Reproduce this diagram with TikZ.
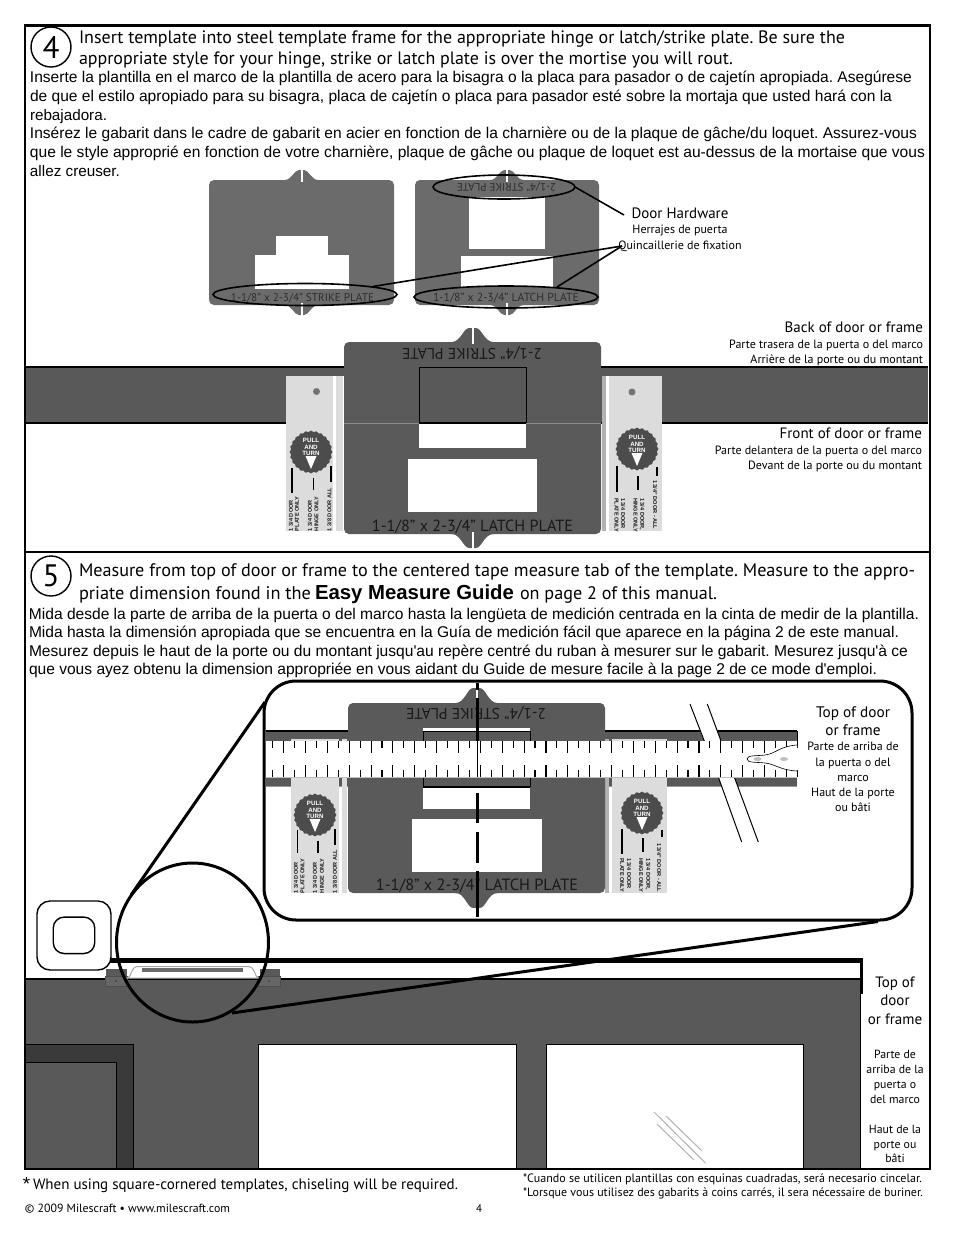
\documentclass[tikz,border=0pt]{standalone}
\usepackage{fontspec}
\usepackage{graphicx}
\usetikzlibrary{shapes.geometric}
\setmainfont{PT Sans}
\newfontfamily\arialf{Liberation Sans}
\definecolor{tgA}{HTML}{6B6B6B}
\definecolor{tgB}{HTML}{5A5A5A}
\definecolor{doorc}{HTML}{595959}
\definecolor{stripc}{HTML}{DCDCDC}
\definecolor{darkf}{HTML}{3A3A3A}
\tikzset{
  txt/.style={inner sep=0pt,outer sep=0pt,anchor=base west,align=left},
  ctxt/.style={inner sep=0pt,outer sep=0pt,anchor=base},
  rtxt/.style={inner sep=0pt,outer sep=0pt,anchor=base east},
  tiny90/.style={inner sep=0pt,outer sep=0pt,anchor=west,rotate=90,font=\arialf\bfseries\fontsize{5.6}{6}\selectfont,text=black!90},
  tinym90/.style={inner sep=0pt,outer sep=0pt,anchor=west,rotate=-90,font=\arialf\bfseries\fontsize{5.6}{6}\selectfont,text=black!90},
  pullt/.style={inner sep=0pt,outer sep=0pt,anchor=base,text=white,font=\arialf\bfseries\fontsize{6.2}{7}\selectfont},
  framebox/.style={draw=black,line width=2.5pt},
  bandline/.style={draw=black,line width=1.6pt},
  callout/.style={draw=black,line width=1.6pt},
  zoomline/.style={draw=black,line width=3pt},
  stepc/.style={draw=black,line width=1.4pt,circle,minimum size=40pt,inner sep=0pt,font=\fontsize{31}{31}\selectfont},
  tick/.style={draw=black,line width=1.1pt},
  glass/.style={draw=black!30,line width=1pt},
}
% line of text fitted to a width
\newcommand{\lin}[6]{\node[txt] (#1) at (#2,#3) {\resizebox{#4pt}{!}{\frenchspacing #5\strut\ignorespaces #6}};}
\newcommand{\arialsz}{\arialf\fontsize{14.5}{16}\selectfont}
\newcommand{\mainsz}{\fontsize{17.5}{20}\selectfont}
\newcommand{\bigsz}{\fontsize{15}{17}\selectfont}
\newcommand{\smlsz}{\fontsize{12}{14}\selectfont}
% rounded template plate: x0 x1 y0 y1 tab half width, tab height, colour
\newcommand{\plate}[7]{%
  \pgfmathsetmacro\pcx{(#1+#2)/2}%
  \fill[#7,rounded corners=5pt] (#1,#3) rectangle (#2,#4);
  \fill[#7] ({\pcx-#5},#3) .. controls ({\pcx-#5*0.55},#3) and ({\pcx-#5*0.45},{#3-#6}) .. ({\pcx-#5*0.15},{#3-#6}) -- ({\pcx+#5*0.15},{#3-#6}) .. controls ({\pcx+#5*0.45},{#3-#6}) and ({\pcx+#5*0.55},#3) .. ({\pcx+#5},#3) -- cycle;
  \fill[#7] ({\pcx-#5},#4) .. controls ({\pcx-#5*0.55},#4) and ({\pcx-#5*0.45},{#4+#6}) .. ({\pcx-#5*0.15},{#4+#6}) -- ({\pcx+#5*0.15},{#4+#6}) .. controls ({\pcx+#5*0.45},{#4+#6}) and ({\pcx+#5*0.55},#4) .. ({\pcx+#5},#4) -- cycle;
  \fill[white] ({\pcx-1},{#3-#6-1}) rectangle ({\pcx+1},{#3+2});
  \fill[white] ({\pcx-1},{#4-2}) rectangle ({\pcx+1},{#4+#6+1});
}
% scalloped dial
\newcommand{\dial}[3]{%
  \fill[tgB!85!black] plot[domain=0:360,samples=145,smooth] ({#2+(20.7+0.6*cos(24*\x))*cos(\x)},{#3+(20.7+0.6*cos(24*\x))*sin(\x)}) -- cycle;
  \fill[white] ({#2-5.5},{#3+4}) -- ({#2+5.5},{#3+4}) -- (#2,{#3+17}) -- cycle;
  \node[pullt] (#1a) at (#2,{#3-9.5}) {PULL};
  \node[pullt] (#1b) at (#2,{#3-3}) {AND};
  \node[pullt] (#1c) at (#2,{#3+3.5}) {TURN};
}
\begin{document}
\begin{tikzpicture}[x=1pt,y=-1pt]
\useasboundingbox (0,0) rectangle (954,1235);
\fill[white] (0,0) rectangle (954,1235);

%%%%%%%%%%%%%%%% SECTION 4
\node[stepc] (s4) at (51,47) {4};
\lin{a1}{79}{43}{766}{\mainsz}{Insert template into steel template frame for the appropriate hinge or latch/strike plate. Be sure the}
\lin{a2}{79}{64}{654}{\mainsz}{appropriate style for your hinge, strike or latch plate is over the mortise you will rout.}
\lin{b1}{30}{82}{882}{\arialsz}{Inserte la plantilla en el marco de la plantilla de acero para la bisagra o la placa para pasador o de cajetín apropiada. Asegúrese}
\lin{b2}{30}{101}{862}{\arialsz}{de que el estilo apropiado para su bisagra, placa de cajetín o placa para pasador esté sobre la mortaja que usted hará con la}
\lin{b3}{30}{120}{77}{\arialsz}{rebajadora.}
\lin{b4}{30}{138}{887}{\arialsz}{Insérez le gabarit dans le cadre de gabarit en acier en fonction de la charnière ou de la plaque de gâche/du loquet. Assurez-vous}
\lin{b5}{30}{157}{895}{\arialsz}{que le style approprié en fonction de votre charnière, plaque de gâche ou plaque de loquet est au-dessus de la mortaise que vous}
\lin{b6}{30}{176}{90}{\arialsz}{allez creuser.}

% small templates
\plate{209}{394}{180}{305}{17}{10}{tgA}
\fill[white] (276,236) rectangle (328,256);
\fill[white] (255,255) rectangle (349,289);
\plate{415}{599}{180}{305}{17}{10}{tgA}
\fill[white] (469,197) rectangle (545,249);
\fill[white] (461,256) rectangle (553,287);
\node[ctxt,text=black!82] (tl1) at (302.5,301) {\resizebox{143pt}{!}{\fontsize{10}{12}\selectfont 1-1/8" x 2-3/4" STRIKE PLATE}};
\node[ctxt,text=black!82] (tl2) at (506,301.5) {\resizebox{146pt}{!}{\fontsize{10}{12}\selectfont 1-1/8" x 2-3/4" LATCH PLATE}};
\node[ctxt,rotate=180,text=black!82] (tl3) at (506.5,183) {\resizebox{99pt}{!}{\fontsize{10}{12}\selectfont 2-1/4" STRIKE PLATE}};
\node[draw=black,line width=1.6pt,ellipse,minimum width=184pt,minimum height=22pt,inner sep=0pt] (e1) at (305,294.5) {};
\node[draw=black,line width=1.6pt,ellipse,minimum width=184pt,minimum height=22pt,inner sep=0pt] (e2) at (506,297) {};
\node[draw=black,line width=1.6pt,ellipse,minimum width=142pt,minimum height=24pt,inner sep=0pt] (e3) at (504,187) {};
\coordinate (hw1) at (624,215);
\coordinate (hw2) at (622,246);
\coordinate (e1p) at (373,286.5);
\coordinate (e2p) at (557,287);
\coordinate (e3p) at (575,187);
\draw[callout] (e3p) -- (hw1);
\draw[callout] (e1p) -- (hw2);
\draw[callout] (e2p) -- (hw2);
\node[ctxt,font=\bigsz] (dh) at (680,218) {Door Hardware};
\node[ctxt,font=\smlsz] (dh2) at (680,233.5) {Herrajes de puerta};
\node[ctxt,font=\smlsz] (dh3) at (680,249) {Quincaillerie de fixation};

% door band
\fill[doorc] (25,367) rectangle (928,423);
\draw[bandline] (25,367) -- (928,367);
\draw[bandline] (25,423) -- (928,423);
% strips
\fill[stripc] (286,376) rectangle (333,531);
\fill[white] (333,376) rectangle (344,531);
\fill[stripc] (336,376) rectangle (343,531);
\fill[stripc] (614,376) rectangle (662,531);
\fill[white] (602,376) rectangle (614,531);
\fill[black!30] (602,376) rectangle (606,531);
\fill[stripc] (609,376) rectangle (614,531);
\fill[black!55] (316.5,391.5) circle (3.5);
\fill[black!55] (632,392) circle (3.5);
\dial{da}{311}{452}
\dial{db}{637}{449}
\draw[line width=1.7pt] (292,468) -- (292,493);
\draw[line width=1.7pt] (313.5,478) -- (313.5,490);
\draw[line width=1.7pt] (331,466) -- (331,482);
\draw[line width=1.3pt] (617,466) -- (617,492);
\draw[line width=1.7pt] (638,476) -- (638,490);
\draw[line width=1.7pt] (657,467) -- (657,476);
\node[tiny90] (st1) at (291,531) {1 3/4 DOOR};
\node[tiny90] (st2) at (297,531) {PLATE ONLY};
\node[tiny90] (st3) at (310,531) {1 3/4 DOOR};
\node[tiny90] (st4) at (316.5,531) {HINGE ONLY};
\node[tiny90] (st5) at (329.5,531) {1 3/8 DOOR ALL};
\node[tinym90] (st6) at (655,480) {1 3/4" DOOR - ALL};
\node[tinym90] (st7) at (642,498) {1 3/4 DOOR,};
\node[tinym90] (st8) at (635.5,498) {HINGE ONLY};
\node[tinym90] (st9) at (623,498) {1 3/4 DOOR};
\node[tinym90] (st10) at (616.5,498) {PLATE ONLY};
% big template
\plate{344}{601}{342}{534}{21}{14}{tgB}
\fill[doorc] (419,367) rectangle (526,423);
\draw[black,line width=.7pt] (419,423) -- (419,367) -- (526,367) -- (526,423);
\draw[black,line width=1.4pt] (419,423) -- (526,423);
\fill[white] (419,423.5) rectangle (526,448);
\fill[white] (408,459) rectangle (537,512);
\draw[black!45,line width=.6pt] (344,423) -- (419,423);
\draw[black!45,line width=.6pt] (526,423) -- (601,423);
\node[ctxt,rotate=180,text=black!90] (bt1) at (472,348) {\resizebox{140pt}{!}{\fontsize{14}{16}\selectfont 2-1/4" STRIKE PLATE}};
\node[ctxt,text=black!90] (bt2) at (472.5,531) {\resizebox{201pt}{!}{\fontsize{14}{16}\selectfont 1-1/8" x 2-3/4" LATCH PLATE}};
% right labels
\node[rtxt,font=\bigsz] (r1) at (923,332) {Back of door or frame};
\node[rtxt,font=\smlsz] (r2) at (923,348) {Parte trasera de la puerta o del marco};
\node[rtxt,font=\smlsz] (r3) at (923,363) {Arrière de la porte ou du montant};
\node[rtxt,font=\bigsz] (r4) at (922,438) {Front of door or frame};
\node[rtxt,font=\smlsz] (r5) at (922,454) {Parte delantera de la puerta o del marco};
\node[rtxt,font=\smlsz] (r6) at (922,469) {Devant de la porte ou du montant};

%%%%%%%%%%%%%%%% SECTION 5
\node[stepc] (s5) at (51,576) {5};
\lin{c1}{79}{576}{836}{\mainsz}{Measure from top of door or frame to the centered tape measure tab of the template. Measure to the appro-}
\lin{c2}{79}{599}{232}{\mainsz}{priate dimension found in the}
\lin{c3}{315}{599}{199}{\arialf\bfseries\fontsize{18}{20}\selectfont}{Easy Measure Guide}
\lin{c4}{520}{599}{197}{\mainsz}{on page 2 of this manual.}
\lin{d1}{29}{619}{890}{\arialsz}{Mida desde la parte de arriba de la puerta o del marco hasta la lengüeta de medición centrada en la cinta de medir de la plantilla.}
\lin{d2}{29}{637.5}{870}{\arialsz}{Mida hasta la dimensión apropiada que se encuentra en la Guía de medición fácil que aparece en la página 2 de este manual.}
\lin{d3}{29}{656}{879}{\arialsz}{Mesurez depuis le haut de la porte ou du montant jusqu'au repère centré du ruban à mesurer sur le gabarit. Mesurez jusqu'à ce}
\lin{d4}{29}{674.5}{848}{\arialsz}{que vous ayez obtenu la dimension appropriée en vous aidant du Guide de mesure facile à la page 2 de ce mode d'emploi.}

% zoom panel
\node[draw=black,line width=3pt,rounded corners=32pt,minimum width=648pt,minimum height=239pt,inner sep=0pt,fill=white] (panel) at (588,800.5) {};
% band
\fill[doorc] (265.5,731) rectangle (797,786);
\draw[bandline] (265.5,731) -- (797,731);
\draw[black!40,line width=.5pt] (265.5,786.5) -- (797,786.5);
\draw[black,line width=1pt] (797,731) -- (797,741);
% break in band
\fill[white] (697,723) -- (714,723) -- (721,741) -- (704,741) -- cycle;
\fill[white] (718.3,777) -- (734.3,777) -- (738,787) -- (722,787) -- cycle;
\draw[black,line width=1pt] (690,704) -- (704.3,741);
\draw[black,line width=1pt] (707.3,704) -- (721,741);
\draw[black,line width=1pt] (718.3,777) -- (741.7,842);
\draw[black,line width=1pt] (734.3,777) -- (758.3,842);
% strips
\fill[stripc] (291,739) rectangle (339,893);
\fill[stripc] (342,739) rectangle (347,893);
\fill[stripc] (619,739) rectangle (667,893);
\fill[black!30] (605,739) rectangle (609,893);
\fill[stripc] (612,739) rectangle (619,893);
\dial{dc}{315}{815}
\dial{dd}{642}{813}
\draw[line width=1.5pt] (297.5,830) -- (297.5,853);
\draw[line width=1.5pt] (318,841) -- (318,853);
\draw[line width=1.5pt] (335,829) -- (335,845);
\draw[line width=1.3pt] (622,829) -- (622,854);
\draw[line width=1.7pt] (643,838) -- (643,852);
\draw[line width=1.7pt] (662,830) -- (662,837);
\node[tiny90] (su1) at (296,893) {1 3/4 DOOR};
\node[tiny90] (su2) at (302.5,893) {PLATE ONLY};
\node[tiny90] (su3) at (315,893) {1 3/4 DOOR};
\node[tiny90] (su4) at (322,893) {HINGE ONLY};
\node[tiny90] (su5) at (335,893) {1 3/8 DOOR ALL};
\node[tinym90] (su6) at (659,843) {1 3/4" DOOR - ALL};
\node[tinym90] (su7) at (648,858) {1 3/4 DOOR,};
\node[tinym90] (su8) at (641,858) {HINGE ONLY};
\node[tinym90] (su9) at (629,858) {1 3/4 DOOR};
\node[tinym90] (su10) at (622,858) {PLATE ONLY};
% template
\plate{348}{605}{703}{893}{21}{15}{tgB}
\fill[white] (423,728) rectangle (530,731);
\fill[doorc] (423,731) rectangle (530,787);
\draw[black,line width=1pt] (423,731) -- (530,731);
\draw[black,line width=.7pt] (423,731) -- (423,787);
\draw[black,line width=.7pt] (530,731) -- (530,787);
\draw[black,line width=1.2pt] (423,787) -- (530,787);
\fill[white] (423,787.5) rectangle (530,809);
\fill[white] (412,819) rectangle (542,872);
\node[ctxt,rotate=180,text=black!90] (ct1) at (476,708) {\resizebox{140pt}{!}{\fontsize{14}{16}\selectfont 2-1/4" STRIKE PLATE}};
\node[ctxt,text=black!90] (ct2) at (477,890) {\resizebox{202pt}{!}{\fontsize{14}{16}\selectfont 1-1/8" x 2-3/4" LATCH PLATE}};
% tape
\fill[white] (265.5,741) rectangle (797,777);
\draw[black!25,line width=.5pt] (265.5,777) -- (797,777);
\foreach \i in {0,...,48}{
  \pgfmathsetmacro\tx{272.7+10.93*\i}
  \pgfmathtruncatemacro\odd{mod(\i,2)}
  \ifnum\odd=1
    \draw[tick] (\tx,741) -- (\tx,753);
    \draw[tick] (\tx,765) -- (\tx,777);
  \else
    \draw[tick] (\tx,741) -- (\tx,748);
    \draw[tick] (\tx,770) -- (\tx,777);
  \fi
}
% tape tab
\fill[white] (797,745) .. controls (780,746) and (775,754) .. (765,755) .. controls (757,756) and (747,755) .. (747,759) .. controls (747,763) and (757,762) .. (765,763) .. controls (775,764) and (780,770) .. (797,771) -- cycle;
\draw[black,line width=.6pt] (797,745) .. controls (780,746) and (775,754) .. (765,755) .. controls (757,756) and (747,755) .. (747,759) .. controls (747,763) and (757,762) .. (765,763) .. controls (775,764) and (780,770) .. (797,771);
\fill[black!25] (757.5,759) ellipse (4 and 2);
\fill[black!25] (784,759) ellipse (4 and 2);
% centre dashes
\draw[black,line width=3pt] (477.5,683) -- (477.5,690);
\draw[black,line width=3pt] (477.5,698) -- (477.5,741);
\draw[black,line width=1.5pt] (477.5,741) -- (477.5,777);
\draw[black,line width=3pt] (477.5,793) -- (477.5,823);
\draw[black,line width=3pt] (477.5,832) -- (477.5,863);
\draw[black,line width=3pt] (477.5,871) -- (477.5,917);
% panel labels
\node[ctxt,font=\fontsize{15.3}{17}\selectfont] (p1) at (853,717) {Top of door};
\node[ctxt,font=\fontsize{15.3}{17}\selectfont] (p2) at (853,735.5) {or frame};
\node[ctxt,font=\fontsize{12}{14}\selectfont] (p3) at (853,750) {Parte de arriba de};
\node[ctxt,font=\fontsize{12}{14}\selectfont] (p4) at (853,766) {la puerta o del};
\node[ctxt,font=\fontsize{12}{14}\selectfont] (p5) at (853,781) {marco};
\node[ctxt,font=\fontsize{12}{14}\selectfont] (p6) at (853,796) {Haut de la porte};
\node[ctxt,font=\fontsize{12}{14}\selectfont] (p7) at (853,811) {ou bâti};

% lower door
\fill[doorc] (25,979) rectangle (860.5,1168);
\draw[black,line width=1.4pt] (25,979) -- (860.5,979);
\draw[black,line width=1pt] (860.5,979) -- (860.5,1168);
\fill[darkf] (25,1044) rectangle (133,1168);
\fill[doorc] (25,1062) rectangle (116,1168);
\draw[black,line width=.5pt] (25,1044) -- (133,1044) -- (133,1168);
\draw[black,line width=.5pt] (25,1062) -- (116,1062) -- (116,1168);
\draw[black,fill=white,line width=1pt] (258.5,1168) -- (258.5,1044) -- (516,1044) -- (516,1168);
\draw[black,fill=white,line width=1pt] (546,1168) -- (546,1044) -- (803.5,1044) -- (803.5,1168);
\draw[glass] (654,1112) -- (705.5,1163);
\draw[glass] (666,1116) -- (702,1151);
\draw[glass] (657,1124) -- (694,1160);
% top-of-door bar
\draw[black,line width=5.5pt] (110,960.5) -- (862.5,960.5);
\draw[black,line width=2.8pt] (861.5,958) -- (861.5,994);
% hinge
\fill[black!65] (106,969) rectangle (127,976);
\fill[black!65] (260,969) rectangle (280,976);
\fill[black!60,draw=black!70,line width=.4pt] (105,976.5) rectangle (127,986);
\fill[black!60,draw=black!70,line width=.4pt] (258,976.5) rectangle (280,986);
\fill[white,draw=black!35,line width=1pt] (127,978) .. controls (132,978) and (130,966.5) .. (138,966.5) -- (248,966.5) .. controls (256,966.5) and (254,978) .. (259,978) -- cycle;
\fill[tgA] (142,968) rectangle (243,972);
\fill[black] (116,981) circle (.7);
\fill[black] (269,981) circle (.7);
% rounded squares
\node[draw=black,line width=1.4pt,rounded corners=13pt,fill=white,minimum width=74pt,minimum height=69pt,inner sep=0pt] (sq1) at (74,935.5) {};
\node[draw=black,line width=1.4pt,rounded corners=11pt,fill=white,minimum width=41.5pt,minimum height=36.5pt,inner sep=0pt] (sq2) at (74,935.3) {};
% magnifier
\node[draw=black,line width=3pt,ellipse,minimum width=152pt,minimum height=159pt,inner sep=0pt] (mag) at (192.5,942.5) {};
\coordinate (mA) at (131,895);
\coordinate (mB) at (232,1013);
\coordinate (pA) at (265,702);
\coordinate (pB) at (878,921.5);
\draw[zoomline] (mA) -- (pA);
\draw[zoomline] (mB) -- (pB);
% section frames
\draw[framebox] (25,25.5) rectangle (930,552);
\draw[framebox] (25,552) rectangle (930,1169);
% right labels
\node[ctxt,font=\fontsize{15}{17}\selectfont] (q1) at (895,987) {Top of};
\node[ctxt,font=\fontsize{15}{17}\selectfont] (q2) at (895,1005.5) {door};
\node[ctxt,font=\fontsize{15}{17}\selectfont] (q3) at (895,1024) {or frame};
\node[ctxt,font=\fontsize{11.8}{14}\selectfont] (q4) at (895,1058) {Parte de};
\node[ctxt,font=\fontsize{11.8}{14}\selectfont] (q5) at (895,1073) {arriba de la};
\node[ctxt,font=\fontsize{11.8}{14}\selectfont] (q6) at (895,1088) {puerta o};
\node[ctxt,font=\fontsize{11.8}{14}\selectfont] (q7) at (895,1103) {del marco};
\node[ctxt,font=\fontsize{11.8}{14}\selectfont] (q8) at (895,1133) {Haut de la};
\node[ctxt,font=\fontsize{11.8}{14}\selectfont] (q9) at (895,1148.5) {porte ou};
\node[ctxt,font=\fontsize{11.8}{14}\selectfont] (q10) at (895,1162) {bâti};
% footer
\node[txt,font=\arialf\fontsize{19}{20}\selectfont] (f0) at (23,1190.5) {*};
\lin{f1}{33}{1189.5}{425}{\fontsize{14}{16}\selectfont}{When using square-cornered templates, chiseling will be required.}
\lin{f2}{523}{1182}{399}{\fontsize{11.5}{13}\selectfont}{*Cuando se utilicen plantillas con esquinas cuadradas, será necesario cincelar.}
\lin{f3}{523}{1196.5}{400}{\fontsize{11.5}{13}\selectfont}{*Lorsque vous utilisez des gabarits à coins carrés, il sera nécessaire de buriner.}
\lin{f4}{25}{1212}{205}{\fontsize{11}{13}\selectfont}{© 2009 Milescraft • www.milescraft.com}
\node[ctxt,font=\fontsize{11}{13}\selectfont] (f5) at (479,1212) {4};
\end{tikzpicture}
\end{document}
